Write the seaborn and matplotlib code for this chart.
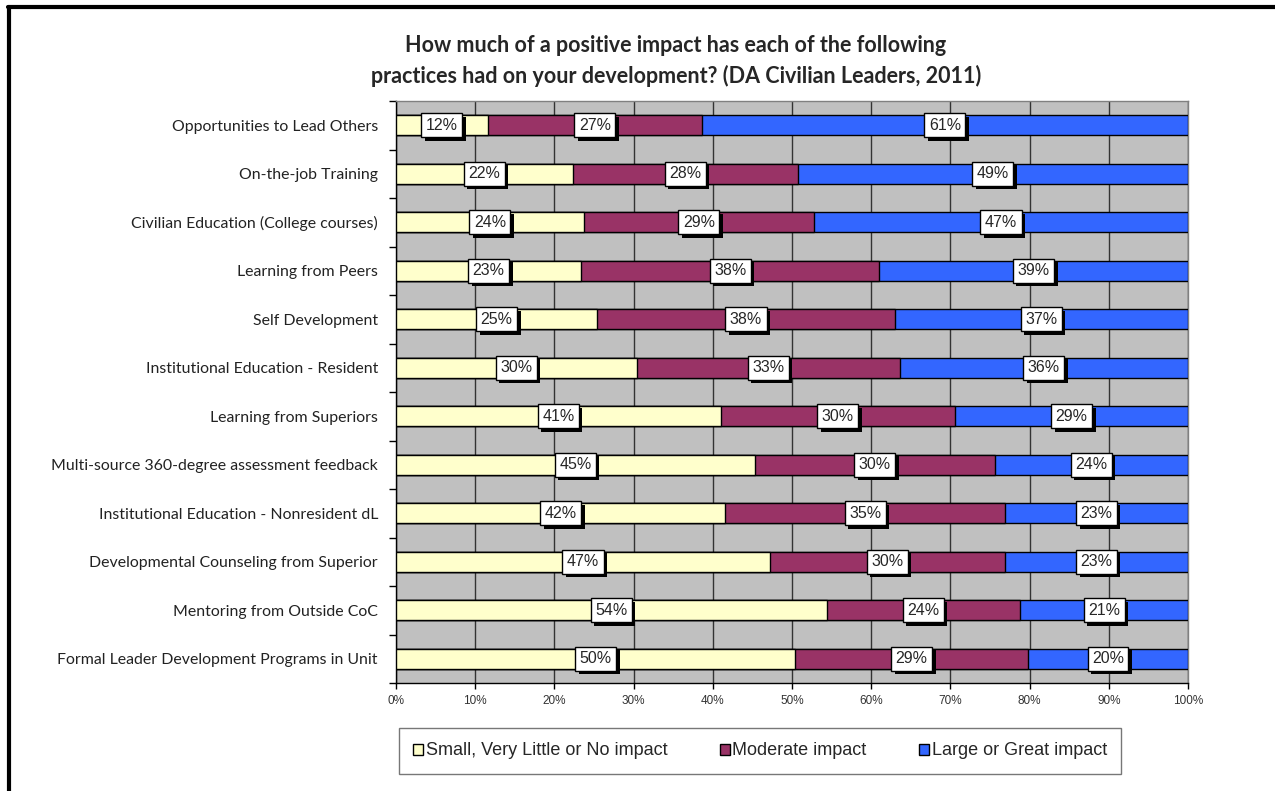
import matplotlib
matplotlib.use("Agg")
import matplotlib.pyplot as plt
import matplotlib.patheffects as pe
from matplotlib.lines import Line2D
from matplotlib.patches import Patch
from matplotlib.ticker import FixedLocator, PercentFormatter
import seaborn as sns
import numpy as np

categories = [
    "Opportunities to Lead Others",
    "On-the-job Training",
    "Civilian Education (College courses)",
    "Learning from Peers",
    "Self Development",
    "Institutional Education - Resident",
    "Learning from Superiors",
    "Multi-source 360-degree assessment feedback",
    "Institutional Education - Nonresident dL",
    "Developmental Counseling from Superior",
    "Mentoring from Outside CoC",
    "Formal Leader Development Programs in Unit",
]
small_impact = [11.6, 22.3, 23.7, 23.4, 25.4, 30.4, 41.0, 45.3, 41.6, 47.2, 54.4, 50.4]
moderate_impact = [27.0, 28.4, 29.1, 37.6, 37.6, 33.2, 29.6, 30.3, 35.3, 29.7, 24.4, 29.4]
large_impact = [61.4, 49.3, 47.2, 39.0, 37.0, 36.4, 29.4, 24.4, 23.1, 23.1, 21.2, 20.2]
series_names = ["Small, Very Little or No impact", "Moderate impact", "Large or Great impact"]
colors = ["#FFFFCC", "#993366", "#3366FF"]

sns.set_style("white")
plt.rcParams["font.family"] = ["Liberation Sans", "DejaVu Sans"]

fig = plt.figure(figsize=(12.75, 7.91), dpi=100)
ax = fig.add_axes([396 / 1275, 1 - 683 / 791, 792 / 1275, 582 / 791])
ax.set_facecolor("#C0C0C0")

s = np.array(small_impact)
m = np.array(moderate_impact)
l = np.array(large_impact)
cum = [s + m + l, s + m, s]
# draw stacked bars by overlaying cumulative totals
for vals, c in zip(cum, colors[::-1]):
    sns.barplot(x=vals, y=categories, color=c, saturation=1, orient="h", width=0.41,
                edgecolor="black", linewidth=1, ax=ax, zorder=3)

ax.set_xlim(0, 100)
ax.set_ylim(len(categories) - 0.5, -0.5)
ax.xaxis.set_major_locator(FixedLocator(np.arange(0, 101, 10)))
ax.xaxis.set_major_formatter(PercentFormatter(decimals=0))
ax.grid(axis="x", color="#333333", linewidth=1, zorder=1)
ax.grid(axis="y", visible=False)
ax.set_axisbelow(True)
ax.set_xlabel("")
ax.set_ylabel("")

# category separator ticks on y-axis
ax.yaxis.set_minor_locator(FixedLocator(np.arange(-0.5, len(categories), 1)))
ax.tick_params(axis="y", which="major", length=0, pad=13)
ax.tick_params(axis="y", which="minor", length=5, width=1, color="black", direction="out", left=True)
ax.tick_params(axis="x", which="major", length=4, width=1, color="black", direction="out",
               bottom=True, pad=5, labelsize=8.5, labelcolor="#333333")
for lab in ax.get_yticklabels():
    lab.set_fontfamily(["Lato", "DejaVu Sans"])
    lab.set_fontsize(11.4)
    lab.set_color("#222222")

for side in ["left", "bottom"]:
    ax.spines[side].set_color("black")
    ax.spines[side].set_linewidth(1)
for side in ["top", "right"]:
    ax.spines[side].set_color("#808080")
    ax.spines[side].set_linewidth(1)

# value labels
starts = [np.zeros_like(s), s, s + m]
for vals, st in zip([s, m, l], starts):
    for i, (v, x0) in enumerate(zip(vals, st)):
        t = ax.text(x0 + v / 2, i, f"{v:.0f}%", ha="center", va="center", fontsize=11.5,
                    zorder=5, bbox=dict(boxstyle="square,pad=0.28", fc="white", ec="black", lw=1))
        t.get_bbox_patch().set_path_effects([
            pe.SimplePatchShadow(offset=(2.5, -2.5), shadow_rgbFace="black", alpha=1.0),
            pe.Normal()])

# title
fig.text(0.53, 0.942, "How much of a positive impact has each of the following",
         ha="center", va="center", fontsize=15.5, fontweight="bold", family=["Lato", "DejaVu Sans"])
fig.text(0.53, 0.904, "practices had on your development? (DA Civilian Leaders, 2011)",
         ha="center", va="center", fontsize=15.5, fontweight="bold", family=["Lato", "DejaVu Sans"])

# legend
handles = [Patch(facecolor=c, edgecolor="black", linewidth=1) for c in colors]
leg = fig.legend(handles, series_names, loc="center", bbox_to_anchor=(0.596, 0.0506), ncol=3,
                 frameon=True, fancybox=False, edgecolor="#555555", handlelength=0.55,
                 handleheight=0.55, handletextpad=0.15, columnspacing=2.9, borderpad=0.8,
                 borderaxespad=0, prop={"family": ["Liberation Sans", "DejaVu Sans"], "size": 13})
leg.get_frame().set_linewidth(1)

# outer figure border (top and left)
fig.add_artist(Line2D([8 / 1275, 1], [1 - 7 / 791, 1 - 7 / 791], color="black", lw=3,
                      transform=fig.transFigure))
fig.add_artist(Line2D([9 / 1275, 9 / 1275], [0, 1 - 7 / 791], color="black", lw=3,
                      transform=fig.transFigure))

fig.savefig("out.png", dpi=100)
